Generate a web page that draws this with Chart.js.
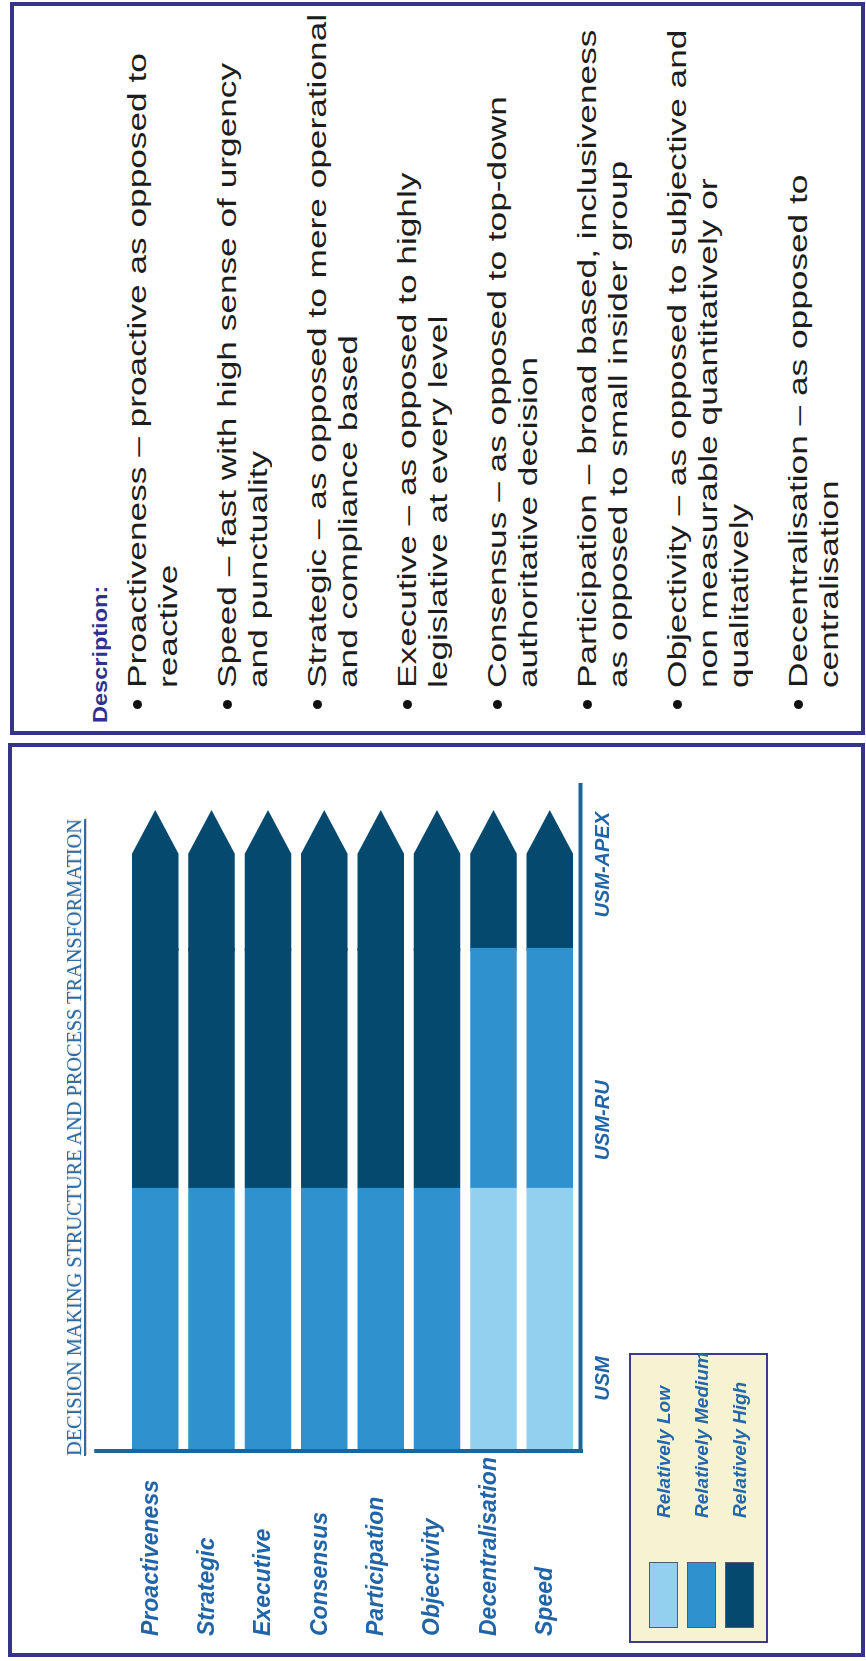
<!DOCTYPE html>
<html>
<head>
<meta charset="utf-8">
<script src="https://cdn.jsdelivr.net/npm/chart.js@4.4.1/dist/chart.umd.min.js"></script>
<style>
html,body{margin:0;padding:0;width:866px;height:1661px;overflow:hidden;background:#fff;}
#slide{position:absolute;left:0;top:0;width:1661px;height:866px;transform-origin:0 0;transform:translateY(1661px) rotate(-90deg);background:#fff;font-family:"Liberation Sans",Arial,sans-serif;}
.panel{position:absolute;box-sizing:border-box;border:4px solid #34348c;background:#fff;}
#chartPanel{left:4px;top:8px;width:914px;height:857px;}
#descPanel{left:926px;top:10px;width:733px;height:855px;}
#chartWrap{position:absolute;left:0;top:0;width:920px;height:866px;}
#title{position:absolute;left:205px;top:64px;font-family:"Liberation Serif","Times New Roman",serif;font-size:20.3px;line-height:20.3px;color:#2b6ca6;text-decoration:underline;text-decoration-thickness:1.5px;text-underline-offset:3px;white-space:nowrap;text-shadow:1px 1px 1px rgba(120,120,120,0.3);}
#legend{position:absolute;left:18px;top:629px;width:290px;height:139px;box-sizing:border-box;border:2px solid #3c3c86;background:#f6f3d2;}
.litem{position:absolute;left:13px;width:270px;height:29px;}
.sw{position:absolute;left:0;top:0;width:66px;height:29px;box-sizing:border-box;border:1.5px solid #55586e;}
.lt{position:absolute;left:110px;top:0;line-height:29px;font-size:19px;font-weight:bold;font-style:italic;color:#2467aa;white-space:nowrap;}
#descHead{position:absolute;left:8px;top:71px;font-size:21px;line-height:30px;font-weight:bold;color:#2e3192;white-space:nowrap;transform:scaleX(1.12);transform-origin:0 0;}
#descList{position:absolute;left:0;top:107.5px;width:700px;}
.item{position:relative;margin-bottom:28px;font-size:25px;line-height:31px;color:#1c1c1c;white-space:nowrap;}
.item .dot{position:absolute;left:22px;top:11px;width:9px;height:9px;border-radius:50%;background:#111;}
.item .txt{display:inline-block;margin-left:43px;transform:scaleX(1.41);transform-origin:0 0;}
</style>
</head>
<body>
<div id="slide">
  <div class="panel" id="chartPanel"></div>
  <div class="panel" id="descPanel">
    <div id="descHead">Description:</div>
    <div id="descList">
      <div class="item"><span class="dot"></span><div class="txt">Proactiveness – proactive as opposed to<br>reactive</div></div>
      <div class="item"><span class="dot"></span><div class="txt">Speed – fast with high sense of urgency<br>and punctuality</div></div>
      <div class="item"><span class="dot"></span><div class="txt">Strategic – as opposed to mere operational<br>and compliance based</div></div>
      <div class="item"><span class="dot"></span><div class="txt">Executive – as opposed to highly<br>legislative at every level</div></div>
      <div class="item"><span class="dot"></span><div class="txt">Consensus – as opposed to top-down<br>authoritative decision</div></div>
      <div class="item"><span class="dot"></span><div class="txt">Participation – broad based, inclusiveness<br>as opposed to small insider group</div></div>
      <div class="item"><span class="dot"></span><div class="txt">Objectivity – as opposed to subjective and<br>non measurable quantitatively or<br>qualitatively</div></div>
      <div class="item"><span class="dot"></span><div class="txt">Decentralisation – as opposed to<br>centralisation</div></div>
    </div>
  </div>
  <div id="chartWrap"><canvas id="c" width="920" height="866"></canvas></div>
  <div id="title">DECISION MAKING STRUCTURE AND PROCESS TRANSFORMATION</div>
  <div id="legend"></div>
</div>
<script>
// ---- data ----
const categories = ['Proactiveness','Strategic','Executive','Consensus','Participation','Objectivity','Decentralisation','Speed'];
const stages = ['USM','USM-RU','USM-APEX'];
const stageTickValues = [0.27, 1.26, 2.24];
const levelNames = ['Relatively Low','Relatively Medium','Relatively High'];
const levelColors = ['#93cfee','#2f92cf','#05496f'];
// length of each stage segment along the bar
const usmSpan  = [1,1,1,1,1,1,1,1];
const ruSpan   = [0.92,0.92,0.92,0.92,0.92,0.92,0.92,0.92];
const apexSpan = [0.53,0.53,0.53,0.53,0.53,0.53,0.53,0.53];
// level reached at each stage (0 = low, 1 = medium, 2 = high)
const usmLevel  = [1,1,1,1,1,1,0,0];
const ruLevel   = [2,2,2,2,2,2,1,1];
const apexLevel = [2,2,2,2,2,2,2,2];

const spans = [usmSpan, ruSpan, apexSpan];
const levels = [usmLevel, ruLevel, apexLevel];
const labelColor = '#2165a8';
const axisColor = '#1b659b';
const fontFamily = '"Liberation Sans", Arial, sans-serif';

const arrowAndAxes = {
  id:'arrowAndAxes',
  beforeDatasetsDraw(chart){
    const {ctx, chartArea:a} = chart;
    const ys = chart.scales.y;
    const pitch = Math.abs(ys.getPixelForValue(1) - ys.getPixelForValue(0));
    ctx.save();
    ctx.strokeStyle = axisColor;
    ctx.lineWidth = 4;
    ctx.beginPath();
    ctx.moveTo(a.left - 2, a.top - pitch * 0.58);
    ctx.lineTo(a.left - 2, a.bottom + 5);
    ctx.stroke();
    ctx.beginPath();
    ctx.moveTo(a.left - 4, a.bottom + 2.5);
    ctx.lineTo(a.right + pitch * 0.48, a.bottom + 2.5);
    ctx.stroke();
    ctx.restore();
  },
  beforeDatasetDraw(chart, args){
    if (args.index !== chart.data.datasets.length - 1) return;
    const ctx = chart.ctx;
    const ds = chart.data.datasets[args.index];
    ctx.save();
    args.meta.data.forEach((bar, i) => {
      const p = bar.getProps(['x','y','base','height'], true);
      const h2 = p.height / 2 + 0.3, L = p.height * 0.95;
      const b = Math.floor(p.base) - 2;
      ctx.fillStyle = ds.backgroundColor[i];
      ctx.beginPath();
      ctx.moveTo(b, p.y - h2);
      ctx.lineTo(p.x - L, p.y - h2);
      ctx.lineTo(p.x, p.y);
      ctx.lineTo(p.x - L, p.y + h2);
      ctx.lineTo(b, p.y + h2);
      ctx.closePath();
      ctx.fill();
    });
    ctx.restore();
    return false;
  }
};

const chart = new Chart(document.getElementById('c'), {
  type:'bar',
  data:{
    labels: categories,
    datasets: stages.map((s, i) => ({
      label: s,
      data: spans[i],
      backgroundColor: levels[i].map(l => levelColors[l]),
      borderWidth: 0,
      inflateAmount: 0.3,
      barPercentage: 0.816,
      categoryPercentage: 1,
      stack: 'decision'
    }))
  },
  options:{
    indexAxis:'y',
    responsive:false,
    animation:false,
    layout:{padding:{left:25, right:69, top:127, bottom:228}},
    plugins:{legend:{display:false}, tooltip:{enabled:false}},
    scales:{
      x:{
        type:'linear', stacked:true, min:0, max:2.45,
        grid:{display:false, drawTicks:false},
        border:{display:false},
        afterBuildTicks: s => { s.ticks = stageTickValues.map(v => ({value:v})); },
        afterFit: s => { s.height = 60; },
        ticks:{padding:13, autoSkip:false, maxRotation:0, color:labelColor,
               font:{family:fontFamily, size:20, weight:'bold', style:'italic'},
               callback:(v, i) => stages[i]}
      },
      y:{
        stacked:true,
        grid:{display:false, drawTicks:false},
        border:{display:false},
        afterFit: s => { s.width = 187; },
        ticks:{crossAlign:'far', labelOffset:-4, padding:0, color:labelColor,
               font:{family:fontFamily, size:23, weight:'bold', style:'italic'}}
      }
    }
  },
  plugins:[arrowAndAxes]
});

// legend built from the level arrays
const legend = document.getElementById('legend');
levelNames.forEach((name, i) => {
  const it = document.createElement('div');
  it.className = 'litem';
  it.style.top = (18 + i * 38) + 'px';
  const sw = document.createElement('div');
  sw.className = 'sw';
  sw.style.background = levelColors[i];
  const t = document.createElement('div');
  t.className = 'lt';
  t.textContent = name;
  it.appendChild(sw); it.appendChild(t);
  legend.appendChild(it);
});
</script>
</body>
</html>
